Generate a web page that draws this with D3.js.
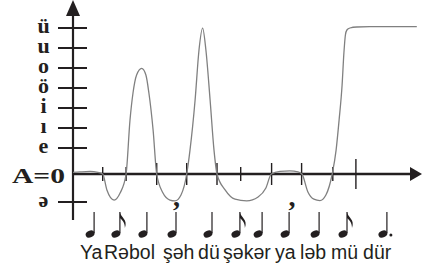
<!DOCTYPE html>
<html><head><meta charset="utf-8">
<script src="https://cdn.jsdelivr.net/npm/d3@7"></script>
<style>body{margin:0;background:#fff}svg{display:block}</style>
</head><body>
<script>
// pitch levels (value -> label)
const pitchValues = [-1, 0, 1, 2, 3, 4, 5, 6, 7];
const pitchLabels = ["ə", "A=0", "e", "ı", "i", "ö", "o", "u", "ü"];
// beat markers on the time axis (time, size class)
const markTimes = [0.99, 1.77, 2.79, 3.79, 4.8, 5.59, 6.62, 7.62, 8.66, 9.43];
const markSizes = [1, 1, 2, 2, 2, 1, 2, 2, 1, 3];
// notes: time of head, type
const noteTimes = [0.57, 1.43, 2.33, 3.3, 4.5, 5.43, 6.17, 7.07, 8.07, 9.0, 10.33];
const noteTypes = ["q", "e", "q", "q", "q", "e", "q", "q", "q", "e", "dq"];
// syllables and their start times
const syllables = ["Ya", "Rə", "bol", "şəh", "dü", "şə", "kər", "ya", "ləb", "mü", "dür"];
const syllableTimes = [0.233, 1.033, 1.867, 3.0, 4.17, 5.0, 5.69, 6.73, 7.57, 8.6, 9.67];
// breath marks
const breathTimes = [3.45, 7.3];
// pitch contour
const curveT = [0, 0.23, 0.57, 0.83, 0.99, 1.13, 1.37, 1.57, 1.77, 1.9, 2.0, 2.12, 2.29, 2.43, 2.53, 2.67, 2.79,
  3.0, 3.23, 3.4, 3.6, 3.79, 3.9, 4.07, 4.2, 4.32, 4.43, 4.57, 4.7, 4.8,
  5.07, 5.4, 5.79, 6.17, 6.43, 6.61, 6.9, 7.23, 7.5, 7.63,
  7.83, 8.03, 8.23, 8.43, 8.64, 8.77, 8.87, 8.97, 9.03, 9.08, 9.13, 9.23, 9.46, 9.9, 11.46];
const curveV = [0.06, 0.08, 0.1, 0.06, 0, -0.57, -0.93, -0.68, 0, 2.4, 3.75, 4.65, 4.98, 4.65, 3.75, 1.9, 0,
  -0.68, -0.93, -0.96, -0.75, 0, 0.92, 3.4, 5.9, 6.99, 5.9, 3.4, 0.92, 0,
  -0.57, -0.9, -0.96, -0.82, -0.5, 0, 0.1, 0.12, 0.08, 0,
  -0.64, -0.9, -0.95, -0.75, 0, 0.92, 2.4, 4.15, 5.75, 6.65, 6.9, 7.0, 7.05, 7.065, 7.065];

const W = 422, H = 270;
const svg = d3.select("body").append("svg").attr("width", W).attr("height", H);
const x = d3.scaleLinear().domain([0, 11.6]).range([73, 421]);
const y = d3.scaleLinear().domain([-1, 0, 1, 7]).range([202, 174, 148, 28]);
const ink = "#231f20";

// y axis line + arrow
svg.append("line").attr("x1", x(0)).attr("x2", x(0)).attr("y1", 220).attr("y2", 12)
  .attr("stroke", ink).attr("stroke-width", 2.2);
svg.append("path").attr("d", `M${x(0)},0 L${x(0)-7},16 L${x(0)+7},16 Z`).attr("fill", ink);
// x axis line + arrow
svg.append("line").attr("x1", x(0)).attr("x2", 414).attr("y1", y(0)).attr("y2", y(0))
  .attr("stroke", ink).attr("stroke-width", 2.4);
svg.append("path").attr("d", `M${W},${y(0)} L${410},${y(0)-7} L${410},${y(0)+7} Z`).attr("fill", ink);

// y ticks and labels
pitchValues.forEach((v, i) => {
  if (v !== 0) {
    svg.append("line").attr("x1", 58).attr("x2", 87).attr("y1", y(v)).attr("y2", y(v))
      .attr("stroke", ink).attr("stroke-width", 2);
  }
  const isA = pitchLabels[i] === "A=0";
  const t = svg.append("text").text(pitchLabels[i])
    .attr("x", isA ? 12 : 43.5).attr("y", y(v) + (isA ? 8.5 : 5))
    .attr("text-anchor", isA ? "start" : "middle")
    .attr("font-family", "Liberation Serif, serif").attr("font-weight", "bold")
    .attr("font-size", 22).attr("fill", ink);
  if (isA) t.attr("textLength", 53).attr("lengthAdjust", "spacingAndGlyphs");
});

// beat markers
const half = {1: 7, 2: 11, 3: 15};
markTimes.forEach((t, i) => {
  svg.append("line").attr("x1", x(t)).attr("x2", x(t))
    .attr("y1", y(0) - half[markSizes[i]]).attr("y2", y(0) + half[markSizes[i]])
    .attr("stroke", ink).attr("stroke-width", 1.4);
});

// contour
const pts = curveT.map((t, i) => [t, curveV[i]]);
svg.append("path").datum(pts)
  .attr("d", d3.line().x(d => x(d[0])).y(d => y(d[1])).curve(d3.curveMonotoneX))
  .attr("fill", "none").attr("stroke", "#808080").attr("stroke-width", 1.3);

// notes
const headY = 234;
noteTimes.forEach((t, i) => {
  const cx = x(t);
  const g = svg.append("g");
  g.append("ellipse").attr("cx", cx).attr("cy", headY).attr("rx", 4.6).attr("ry", 3.4)
    .attr("transform", `rotate(-25 ${cx} ${headY})`).attr("fill", ink);
  g.append("line").attr("x1", cx + 4).attr("x2", cx + 4).attr("y1", headY - 1).attr("y2", headY - 22)
    .attr("stroke", ink).attr("stroke-width", 1.2);
  if (noteTypes[i] === "e") {
    g.append("path").attr("d", `M${cx+4},${headY-22} C${cx+5},${headY-16} ${cx+12},${headY-15} ${cx+9},${headY-6} C${cx+9},${headY-12} ${cx+6},${headY-14} ${cx+4},${headY-16} Z`)
      .attr("fill", ink);
  }
  if (noteTypes[i] === "dq") {
    g.append("circle").attr("cx", cx + 8).attr("cy", headY + 1).attr("r", 1.5).attr("fill", ink);
  }
});
syllables.forEach((s, i) => {
  svg.append("text").text(s).attr("x", x(syllableTimes[i])).attr("y", 259)
    .attr("text-anchor", "start").attr("font-family", "Liberation Sans, Arial, sans-serif")
    .attr("font-size", 19.5).attr("fill", ink);
});

// breath marks
breathTimes.forEach(t => {
  svg.append("text").text(",").attr("x", x(t)).attr("y", 206)
    .attr("text-anchor", "middle").attr("font-family", "Liberation Serif, serif")
    .attr("font-weight", "bold").attr("font-size", 28).attr("fill", ink);
});
</script>
</body></html>
